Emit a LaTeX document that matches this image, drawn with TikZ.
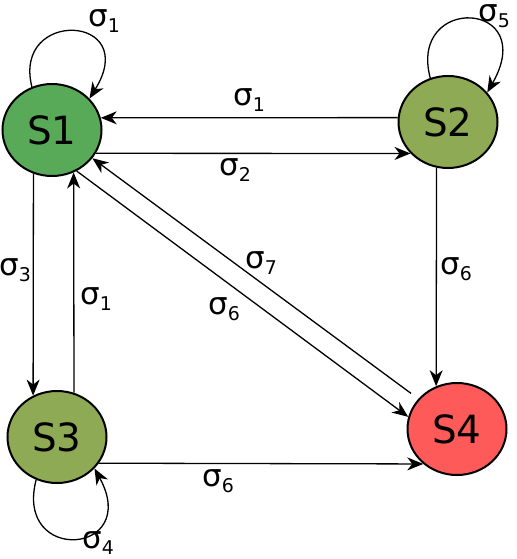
\documentclass[tikz,border=0pt]{standalone}
\usepackage{fontspec}
\setmainfont{DejaVu Sans}
\usetikzlibrary{arrows.meta, shapes.geometric}
\definecolor{stateone}{RGB}{88,170,88}
\definecolor{stateolive}{RGB}{143,170,85}
\definecolor{statered}{RGB}{255,90,90}
\newcommand{\sig}[1]{σ\raisebox{-6bp}{\fontsize{19}{19}\selectfont #1}}

\begin{document}
\begin{tikzpicture}[x=1bp, y=-1bp, line width=1.3bp,
    >={Stealth[length=16bp, width=13bp, inset=5bp]},
    state/.style={draw, ellipse, line width=2bp, minimum width=99bp, minimum height=92bp, inner sep=0pt, font=\fontsize{39}{39}\selectfont},
    lbl/.style={inner sep=0pt, font=\fontsize{31}{31}\selectfont}]
    \useasboundingbox (0,0) rectangle (517,559);

    \node[state, fill=stateone] (s1) at (52,130) {S1};
    \node[state, fill=stateolive] (s2) at (448,122) {S2};
    \node[state, fill=stateolive] (s3) at (57,437) {S3};
    \node[state, fill=statered] (s4) at (457,429) {S4};

    % self loops
    \draw[->] (s1.115) .. controls (12,8) and (142,14) .. (s1.40);
    \draw[->] (s2.112) .. controls (408,-6) and (540,0) .. (s2.37);
    \draw[->] (s3.-116) .. controls (14,565) and (142,555) .. (s3.-40);

    % transitions
    \draw[->] (s2.175) -- (s1.14);
    \draw[->] (s1.-28) -- (s2.-140.5);
    \draw[->] (s1.-113.6) -- (s3.120.7);
    \draw[->] (s3.69.9) -- (s1.-63.8);
    \draw[->] (s3.-32.2) -- (s4.-134.8);
    \draw[->] (s2.-104.8) -- (s4.116.7);
    \draw[->, shorten <=9bp] (s4.142.8) -- (s1.-35);
    \draw[->] (s1.-59.2) -- (s4.166.4);

    \node[lbl] (l1) at (104,21) {\sig{1}};
    \node[lbl] (l5) at (494,16) {\sig{5}};
    \node[lbl] (l12) at (249,100) {\sig{1}};
    \node[lbl] (l2) at (235,170) {\sig{2}};
    \node[lbl] (l3) at (15,270) {\sig{3}};
    \node[lbl] (l31) at (96,299) {\sig{1}};
    \node[lbl] (l7) at (261,263) {\sig{7}};
    \node[lbl] (l6) at (224,309) {\sig{6}};
    \node[lbl] (l24) at (456,269) {\sig{6}};
    \node[lbl] (l34) at (218,481) {\sig{6}};
    \node[lbl] (l4) at (98,543) {\sig{4}};
\end{tikzpicture}
\end{document}
